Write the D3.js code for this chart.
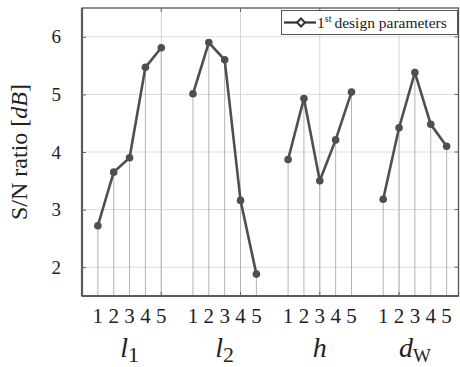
<!DOCTYPE html>
<html><head><meta charset="utf-8">
<script src="https://cdn.jsdelivr.net/npm/d3@7"></script>
<style>body{margin:0;background:#fff}svg{display:block}</style>
</head><body>
<script>
const groups = ["l1", "l2", "h", "dW"];
const levels = ["1", "2", "3", "4", "5"];
const l1 = [2.72, 3.65, 3.90, 5.47, 5.81];
const l2 = [5.01, 5.90, 5.60, 3.16, 1.88];
const hv = [3.87, 4.93, 3.50, 4.21, 5.04];
const dW = [3.18, 4.42, 5.38, 4.48, 4.10];
const yTicks = [2, 3, 4, 5, 6];
const seriesName = "design parameters";

const FF = '"Liberation Serif", monospace';
const W = 460, H = 367;
const m = {l: 82, t: 8, r: 1.5, b: 71};
const svg = d3.select("body").append("svg").attr("width", W).attr("height", H);
const x = d3.scaleLinear().domain([0, 23.75]).range([m.l, W - m.r]);
const y = d3.scaleLinear().domain([1.5, 6.5]).range([H - m.b, m.t]);

const all = [l1, l2, hv, dW];
const data = all.map((vals, g) => vals.map((v, i) => ({g, i, idx: g * 6 + i + 1, v})));

// horizontal grid
svg.append("g").selectAll("line").data(yTicks).join("line")
  .attr("x1", x(0)).attr("x2", x(23.75)).attr("y1", d => y(d)).attr("y2", d => y(d))
  .attr("stroke", "#dcdcdc").attr("stroke-width", 1);
// vertical major grid
const majors = [5, 10, 15, 20];
svg.append("g").selectAll("line").data(majors).join("line")
  .attr("x1", d => x(d)).attr("x2", d => x(d)).attr("y1", y(1.5)).attr("y2", y(6.5))
  .attr("stroke", "#d4d4d4").attr("stroke-width", 1);
// stems
svg.append("g").selectAll("line").data(data.flat()).join("line")
  .attr("x1", d => x(d.idx)).attr("x2", d => x(d.idx)).attr("y1", y(1.5)).attr("y2", d => y(d.v))
  .attr("stroke", "#b4b4b4").attr("stroke-width", 1);

// frame
const fr = svg.append("g").attr("fill", "none");
fr.append("rect").attr("x", x(0)).attr("y", y(6.5)).attr("width", x(23.75) - x(0)).attr("height", y(1.5) - y(6.5))
  .attr("stroke", "#555").attr("stroke-width", 1.3);
fr.append("line").attr("x1", x(0)).attr("x2", x(0)).attr("y1", y(1.5)).attr("y2", y(6.5)).attr("stroke", "#5a5a5a").attr("stroke-width", 2.2);
fr.append("line").attr("x1", x(0)).attr("x2", x(23.75)).attr("y1", y(1.5)).attr("y2", y(1.5)).attr("stroke", "#5a5a5a").attr("stroke-width", 2);

// ticks
const yAxis = d3.axisLeft(y).tickValues(yTicks).tickSize(4).tickFormat(d3.format("d"));
const ga = svg.append("g").attr("transform", `translate(${x(0)},0)`).call(yAxis);
ga.select(".domain").remove();
ga.selectAll(".tick line").attr("x2", 4).attr("x1", 0).attr("stroke", "#666");
ga.selectAll(".tick text").attr("x", -21).style("font-family", FF).style("font-size", "19px").attr("fill", "#222");
svg.append("g").selectAll("line").data(yTicks).join("line")
  .attr("x1", x(23.75)).attr("x2", x(23.75) - 4).attr("y1", d => y(d)).attr("y2", d => y(d)).attr("stroke", "#666");
svg.append("g").selectAll("line").data(majors).join("line")
  .attr("x1", d => x(d)).attr("x2", d => x(d)).attr("y1", y(6.5)).attr("y2", y(6.5) + 4).attr("stroke", "#666");
svg.append("g").selectAll("line").data(majors).join("line")
  .attr("x1", d => x(d)).attr("x2", d => x(d)).attr("y1", y(1.5)).attr("y2", y(1.5) - 4).attr("stroke", "#666");

// x labels (levels)
svg.append("g").selectAll("text").data(data.flat()).join("text")
  .style("font-family", FF).style("font-size", "21px")
  .attr("x", d => x(d.idx)).attr("y", 323).attr("text-anchor", "middle")
  .attr("fill", "#222")
  .text(d => levels[d.i]);

// group labels
const gl = svg.append("g").attr("fill", "#222");
const glabels = [
  {main: "l", sub: "1"},
  {main: "l", sub: "2"},
  {main: "h", sub: ""},
  {main: "d", sub: "W"}
];
glabels.forEach((g, k) => {
  const cx = x(k * 6 + 3);
  const t = gl.append("text").style("font-family", FF).style("font-size", "28px")
    .attr("x", cx).attr("y", 357).attr("text-anchor", "middle");
  t.append("tspan").style("font-style", "italic").text(g.main);
  if (g.sub) t.append("tspan").style("font-size", g.sub === "W" ? "19px" : "22px").attr("dy", 5).text(g.sub);
});

// y label
const yl = svg.append("text").style("font-family", FF).style("font-size", "24px")
  .attr("transform", `translate(27,${(y(1.5)+y(6.5))/2}) rotate(-90)`)
  .attr("text-anchor", "middle").attr("fill", "#222");
yl.append("tspan").text("S/N ratio [");
yl.append("tspan").style("font-style", "italic").text("dB");
yl.append("tspan").text("]");

// lines
const line = d3.line().x(d => x(d.idx)).y(d => y(d.v));
svg.append("g").selectAll("path").data(data).join("path")
  .attr("d", line).attr("fill", "none").attr("stroke", "#4f4f4f").attr("stroke-width", 2.6);
svg.append("g").selectAll("circle").data(data.flat()).join("circle")
  .attr("cx", d => x(d.idx)).attr("cy", d => y(d.v)).attr("r", 3.8).attr("fill", "#4f4f4f");

// legend
const lg = svg.append("g");
lg.append("rect").attr("x", 281.5).attr("y", 10.5).attr("width", 176).attr("height", 24)
  .attr("fill", "#fff").attr("stroke", "#555").attr("stroke-width", 1);
lg.append("line").attr("x1", 284).attr("x2", 316).attr("y1", 22.5).attr("y2", 22.5).attr("stroke", "#333").attr("stroke-width", 2.2);
lg.append("path").attr("d", d3.symbol(d3.symbolDiamond2, 40)()).attr("transform", "translate(301,22.5)")
  .attr("fill", "#fff").attr("stroke", "#333").attr("stroke-width", 2);
const lt = lg.append("text").style("font-family", FF).style("font-size", "15.5px")
  .attr("x", 317).attr("y", 28).attr("fill", "#222");
lt.append("tspan").text("1");
lt.append("tspan").style("font-size", "10px").attr("dy", -6).text("st");
lt.append("tspan").attr("dy", 6).attr("dx", 3).text(seriesName);
</script>
</body></html>
